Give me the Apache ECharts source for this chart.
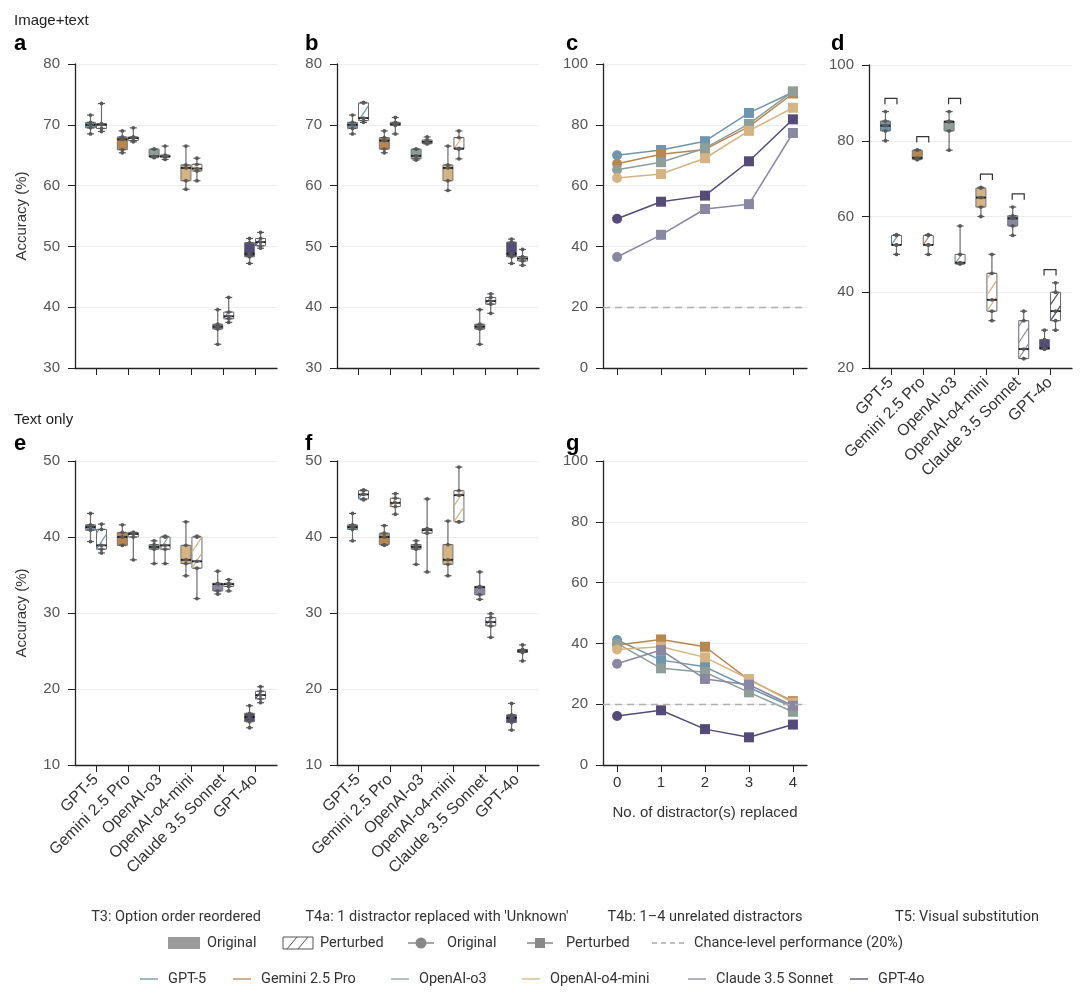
<!DOCTYPE html>
<html>
<head>
<meta charset="utf-8">
<script src="https://cdn.jsdelivr.net/npm/echarts@6/dist/echarts.min.js"></script>
<style>
  html, body { margin: 0; padding: 0; background: #fff; }
  #main { width: 1080px; height: 994px; }
</style>
</head>
<body>
<div id="main"></div>
<script>
// models and colours
const models = ['GPT-5', 'Gemini 2.5 Pro', 'OpenAI-o3', 'OpenAI-o4-mini', 'Claude 3.5 Sonnet', 'GPT-4o'];
const colors = ['#6f95ad', '#b8864f', '#8e9e98', '#d6b382', '#8a87a2', '#544b78'];
const distractors = [0, 1, 2, 3, 4];

// box plots: [min, q1, median, q3, max] per model
// a: T3 image+text
const aOrig = [[68.5,69.5,70,70.4,71.6],[65.4,65.9,67.6,68.0,69.0],[64.6,64.7,64.8,66.0,66.0],[59.4,60.8,62.9,63.4,66.5],[33.9,36.4,36.8,37.2,39.6],[47.2,48.3,48.8,50.6,51.3]];
const aPert = [[68.9,69.4,70,70.2,73.5],[67.2,67.4,67.8,68.0,69.5],[64.3,64.7,64.8,65.0,66.5],[60.8,62.4,62.8,63.5,64.5],[37.5,38.1,38.5,39.2,41.6],[49.7,50.1,50.7,51.3,52.3]];
// b: T4a image+text
const bOrig = [[68.5,69.4,70,70.4,71.6],[65.4,66.0,67.4,67.9,69.0],[64.2,64.4,64.9,66.0,66.0],[59.2,60.8,62.9,63.4,66.5],[33.9,36.4,36.8,37.2,39.6],[47.2,48.3,48.8,50.7,51.2]];
const bPert = [[70.4,70.7,71.1,73.6,73.7],[68.5,69.9,70.1,70.4,71.2],[66.9,66.9,67.2,67.5,68.0],[64.4,66.0,66.1,67.9,69.0],[39.0,40.5,41.0,41.6,42.2],[46.9,47.6,48.0,48.3,49.5]];
// d: T5 visual substitution
const dOrig = [[80,82.6,84,85.2,87.7],[75,75.1,75.5,77.5,77.6],[77.5,82.6,85,85.2,87.7],[60,62.5,65,67.5,67.7],[55,57.5,59.5,60.2,62.5],[25,25,25.2,27.5,30]];
const dPert = [[50,52.5,52.5,55,55.2],[50,52.5,52.5,55,55.2],[47.5,47.5,47.8,50,57.5],[32.5,35,38,45,50],[22.5,22.5,25,32.5,35],[30,32.5,35,40,42.5]];
// e: T3 text only
const eOrig = [[39.4,40.9,41.3,41.6,43.1],[38.9,38.9,40.0,40.6,41.6],[36.5,38.4,38.7,39.0,39.5],[34.9,36.5,37.0,38.9,42.0],[32.5,32.9,33.8,33.9,35.5],[14.9,15.7,16.3,16.8,17.8]];
const ePert = [[37.9,38.4,38.9,41.0,41.7],[37.0,40.0,40.4,40.6,40.6],[36.5,38.4,38.9,40.0,40.1],[31.9,35.9,36.8,40.0,40.1],[32.9,33.5,33.8,33.9,34.4],[18.2,18.7,19.2,19.7,20.3]];
// f: T4a text only
const fOrig = [[39.5,41.0,41.3,41.6,43.1],[38.9,39.0,40.0,40.5,41.5],[36.4,38.4,38.7,39.0,39.5],[34.9,36.4,37.0,39.0,42.1],[31.8,32.4,33.4,33.5,35.4],[14.6,15.6,16.2,16.6,18.1]];
const fPert = [[44.9,45.0,45.6,46.1,46.2],[43.0,44.0,44.5,45.1,45.7],[35.4,40.5,40.9,41.1,45.0],[42.0,42.0,45.5,46.1,49.2],[26.8,28.3,28.8,29.4,29.9],[23.7,24.8,25.0,25.2,25.8]];

// line panels: accuracy vs no. of distractors replaced (model order)
const cValues = [[70,71.7,74.6,83.9,90.7],[67.2,70.3,71.9,79.4,90.3],[65.2,67.7,72.3,80.3,91],[62.5,63.8,69,78,85.6],[36.5,43.8,52.3,53.9,77.3],[49.1,54.7,56.7,68,81.8]];
const gValues = [[41.1,34.5,32.3,25.5,19],[39.5,41.3,38.9,28,21],[40,31.8,30.5,23.9,17.5],[38,38.9,35.4,28.3,20.5],[33.3,37.8,28.3,26.4,19.5],[16.1,18,11.8,9.1,13.3]];
const chanceLevel = 20;
const bracketGap = 3.5;

const FONT = '"Liberation Sans", Arial, sans-serif';
const LFONT = 'Roboto, "Liberation Sans", sans-serif';

const chart = echarts.init(document.getElementById('main'), null, { renderer: 'canvas' });

// grids: a b c d e f g
const grids = [
  { left: 75, top: 64, width: 202, height: 304 },
  { left: 337, top: 64, width: 202, height: 304 },
  { left: 603, top: 64, width: 204, height: 304 },
  { left: 869, top: 65, width: 203, height: 303 },
  { left: 75, top: 461, width: 202, height: 304 },
  { left: 337, top: 461, width: 202, height: 304 },
  { left: 603, top: 461, width: 204, height: 304 }
];

function yAxis(g, min, max, interval, name) {
  return {
    type: 'value', gridIndex: g, min, max, interval,
    name: name || '', nameLocation: 'middle', nameGap: 46,
    nameTextStyle: { fontSize: 15, color: '#333', fontFamily: FONT },
    axisLine: { show: true, onZero: false, lineStyle: { color: '#222', width: 1.3 } },
    axisTick: { show: true, length: 7, lineStyle: { color: '#222' } },
    axisLabel: { fontSize: 15, color: '#555', margin: 15, fontFamily: FONT },
    splitLine: { show: true, lineStyle: { color: '#eeeeee' } }
  };
}

function xAxis(g, min, max, ticks, labelFn, rotate, name) {
  return {
    type: 'value', gridIndex: g, min, max,
    name: name || '', nameLocation: 'middle', nameGap: 40,
    nameTextStyle: { fontSize: 15, color: '#333', fontFamily: FONT },
    axisLine: { show: true, onZero: false, lineStyle: { color: '#222', width: 1.3 } },
    axisTick: { show: true, length: 7, customValues: ticks, lineStyle: { color: '#222' } },
    axisLabel: {
      show: !!labelFn, customValues: ticks, formatter: labelFn || (v => ''),
      rotate: rotate || 0, fontSize: rotate ? 16 : 15, color: '#333', margin: rotate ? 12 : 10, fontFamily: FONT
    },
    splitLine: { show: false }
  };
}

const catIdx = models.map((m, i) => i);
const catLabel = v => models[Math.round(v)];

const xAxes = [
  xAxis(0, -0.66, 5.69, catIdx),
  xAxis(1, -0.66, 5.69, catIdx),
  xAxis(2, -0.32, 4.32, distractors),
  xAxis(3, -0.69, 5.69, catIdx, catLabel, 45),
  xAxis(4, -0.66, 5.69, catIdx, catLabel, 45),
  xAxis(5, -0.66, 5.69, catIdx, catLabel, 45),
  xAxis(6, -0.32, 4.32, distractors, v => String(v), 0, 'No. of distractor(s) replaced')
];
const yAxes = [
  yAxis(0, 30, 80, 10, 'Accuracy (%)'),
  yAxis(1, 30, 80, 10),
  yAxis(2, 0, 100, 20),
  yAxis(3, 20, 100, 20),
  yAxis(4, 10, 50, 10, 'Accuracy (%)'),
  yAxis(5, 10, 50, 10),
  yAxis(6, 0, 100, 20)
];

// diagonal hatch lines clipped to a rect
function hatchLines(x0, yT, w, yB, color) {
  const s = 1.5, P = 16, out = [];
  for (let k = 0; yB - k * P > yT; k++) {
    const c = yB - k * P;
    const tMax = Math.min(w, (c - yT) / s);
    if (tMax <= 0.5) continue;
    out.push({ type: 'line', shape: { x1: x0, y1: c, x2: x0 + tMax, y2: c - s * tMax },
      style: { stroke: color, lineWidth: 1.2 } });
  }
  return out;
}

function boxRenderer(side, perturbed) {
  return function (params, api) {
    const i = api.value(0);
    const col = colors[i];
    const pt = k => api.coord([i, api.value(k)]);
    const cx = pt(3)[0] + side * 5.5;
    const yMin = pt(1)[1], yQ1 = pt(2)[1], yMed = pt(3)[1], yQ3 = pt(4)[1], yMax = pt(5)[1];
    const hw = 5;
    const ch = [];
    ch.push({ type: 'line', shape: { x1: cx, y1: yMax, x2: cx, y2: yMin }, style: { stroke: '#6a6a6a', lineWidth: 1.2 } });
    const h = Math.max(yQ1 - yQ3, 1);
    ch.push({ type: 'rect', shape: { x: cx - hw, y: yQ3, width: 2 * hw, height: h },
      style: { fill: perturbed ? '#ffffff' : col, stroke: perturbed ? '#6a6a6a' : '#777', lineWidth: 1 } });
    if (perturbed && h > 6) {
      hatchLines(cx - hw, yQ3, 2 * hw, yQ1, col).forEach(l => ch.push(l));
    }
    ch.push({ type: 'line', shape: { x1: cx - hw, y1: yMed, x2: cx + hw, y2: yMed }, style: { stroke: '#111', lineWidth: 1.8 } });
    [yMin, yQ1, yMed, yQ3, yMax].forEach(y => {
      ch.push({ type: 'line', shape: { x1: cx - 3.5, y1: y, x2: cx + 3.5, y2: y }, style: { stroke: '#5a5a5a', lineWidth: 1.2 } });
      ch.push({ type: 'circle', shape: { cx: cx, cy: y, r: 1.9 }, style: { fill: '#5a5a5a' } });
    });
    return { type: 'group', children: ch };
  };
}

function boxSeries(g, data, side, perturbed) {
  return {
    type: 'custom', xAxisIndex: g, yAxisIndex: g, silent: true,
    renderItem: boxRenderer(side, perturbed),
    encode: { x: 0, y: [1, 2, 3, 4, 5] },
    data: data.map((r, i) => [i].concat(r)),
    z: 3
  };
}

function lineSeries(g, values) {
  const out = [];
  values.forEach((vals, i) => {
    out.push({
      type: 'line', xAxisIndex: g, yAxisIndex: g, name: models[i],
      data: distractors.map((d, j) => [d, vals[j]]),
      symbol: (v, p) => p.dataIndex === 0 ? 'circle' : 'rect',
      symbolSize: 10,
      lineStyle: { color: colors[i], width: 1.5 },
      itemStyle: { color: colors[i] },
      z: 4
    });
  });
  out.push({
    type: 'line', xAxisIndex: g, yAxisIndex: g, data: [], silent: true,
    markLine: {
      silent: true, symbol: 'none', label: { show: false },
      lineStyle: { type: [7, 5], color: '#b0b0b0', width: 1.3 },
      data: [{ yAxis: chanceLevel }]
    }
  });
  return out;
}

const brackets = {
  type: 'custom', xAxisIndex: 3, yAxisIndex: 3, silent: true,
  data: dOrig.map((r, i) => [i, Math.max(r[4], dPert[i][4]) + bracketGap]),
  renderItem: function (params, api) {
    const p = api.coord([api.value(0), api.value(1)]);
    return { type: 'polyline', shape: { points: [[p[0] - 6, p[1] + 6], [p[0] - 6, p[1]], [p[0] + 6, p[1]], [p[0] + 6, p[1] + 6]] },
      style: { stroke: '#333', lineWidth: 1.2, fill: null } };
  }
};

const series = [].concat(
  boxSeries(0, aOrig, -1, false), boxSeries(0, aPert, 1, true),
  boxSeries(1, bOrig, -1, false), boxSeries(1, bPert, 1, true),
  lineSeries(2, cValues),
  boxSeries(3, dOrig, -1, false), boxSeries(3, dPert, 1, true), brackets,
  boxSeries(4, eOrig, -1, false), boxSeries(4, ePert, 1, true),
  boxSeries(5, fOrig, -1, false), boxSeries(5, fPert, 1, true),
  lineSeries(6, gValues)
);

// text and legend
function txt(text, x, y, size, opts) {
  opts = opts || {};
  return { type: 'text', x: x, y: y, silent: true,
    style: { text: text, font: (opts.bold ? 'bold ' : '') + size + 'px ' + (opts.font || FONT), fill: opts.color || '#222',
      align: opts.align || 'left', textAlign: opts.align || 'left', verticalAlign: 'middle', textVerticalAlign: 'middle' } };
}
const graphics = [
  txt('Image+text', 14, 21, 15),
  txt('Text only', 14, 420, 15),
  txt('a', 14, 44, 22, { bold: true, color: '#000' }),
  txt('b', 305, 44, 22, { bold: true, color: '#000' }),
  txt('c', 566, 44, 22, { bold: true, color: '#000' }),
  txt('d', 831, 44, 22, { bold: true, color: '#000' }),
  txt('e', 14, 444, 22, { bold: true, color: '#000' }),
  txt('f', 305, 444, 22, { bold: true, color: '#000' }),
  txt('g', 566, 444, 22, { bold: true, color: '#000' })
];
const lg = { color: '#333', font: LFONT };
graphics.push(
  txt('T3: Option order reordered', 176, 917, 14.5, Object.assign({ align: 'center' }, lg)),
  txt("T4a: 1 distractor replaced with 'Unknown'", 437, 917, 14.5, Object.assign({ align: 'center' }, lg)),
  txt('T4b: 1\u20134 unrelated distractors', 705, 917, 14.5, Object.assign({ align: 'center' }, lg)),
  txt('T5: Visual substitution', 967, 917, 14.5, Object.assign({ align: 'center' }, lg))
);
// row 2
graphics.push(
  { type: 'rect', shape: { x: 168, y: 937, width: 32, height: 12 }, style: { fill: '#9a9a9a' } },
  txt('Original', 207, 943, 14.5, lg),
  { type: 'rect', shape: { x: 283, y: 937, width: 30, height: 12 }, style: { fill: '#fff', stroke: '#555', lineWidth: 1 } },
  { type: 'line', shape: { x1: 287, y1: 949, x2: 297, y2: 937 }, style: { stroke: '#555', lineWidth: 1 } },
  { type: 'line', shape: { x1: 298, y1: 949, x2: 308, y2: 937 }, style: { stroke: '#555', lineWidth: 1 } },
  txt('Perturbed', 320, 943, 14.5, lg),
  { type: 'line', shape: { x1: 408, y1: 943, x2: 434, y2: 943 }, style: { stroke: '#888', lineWidth: 1.5 } },
  { type: 'circle', shape: { cx: 421, cy: 943, r: 5.5 }, style: { fill: '#888' } },
  txt('Original', 447, 943, 14.5, lg),
  { type: 'line', shape: { x1: 527, y1: 943, x2: 553, y2: 943 }, style: { stroke: '#888', lineWidth: 1.5 } },
  { type: 'rect', shape: { x: 535, y: 938, width: 10, height: 10 }, style: { fill: '#888' } },
  txt('Perturbed', 566, 943, 14.5, lg),
  { type: 'line', shape: { x1: 652, y1: 943, x2: 684, y2: 943 }, style: { stroke: '#aaa', lineWidth: 1.3, lineDash: [5, 4] } },
  txt('Chance-level performance (20%)', 694, 943, 14.5, lg)
);
// row 3: model lines
const legendX = [140, 233, 391, 522, 688, 850];
models.forEach((m, i) => {
  graphics.push(
    { type: 'line', shape: { x1: legendX[i], y1: 979, x2: legendX[i] + 18, y2: 979 }, style: { stroke: colors[i], lineWidth: 1.3 } },
    txt(m, legendX[i] + 28, 979, 14.5, lg)
  );
});

chart.setOption({
  animation: false,
  backgroundColor: '#fff',
  grid: grids,
  xAxis: xAxes,
  yAxis: yAxes,
  series: series,
  graphic: { elements: graphics }
});
</script>
</body>
</html>
